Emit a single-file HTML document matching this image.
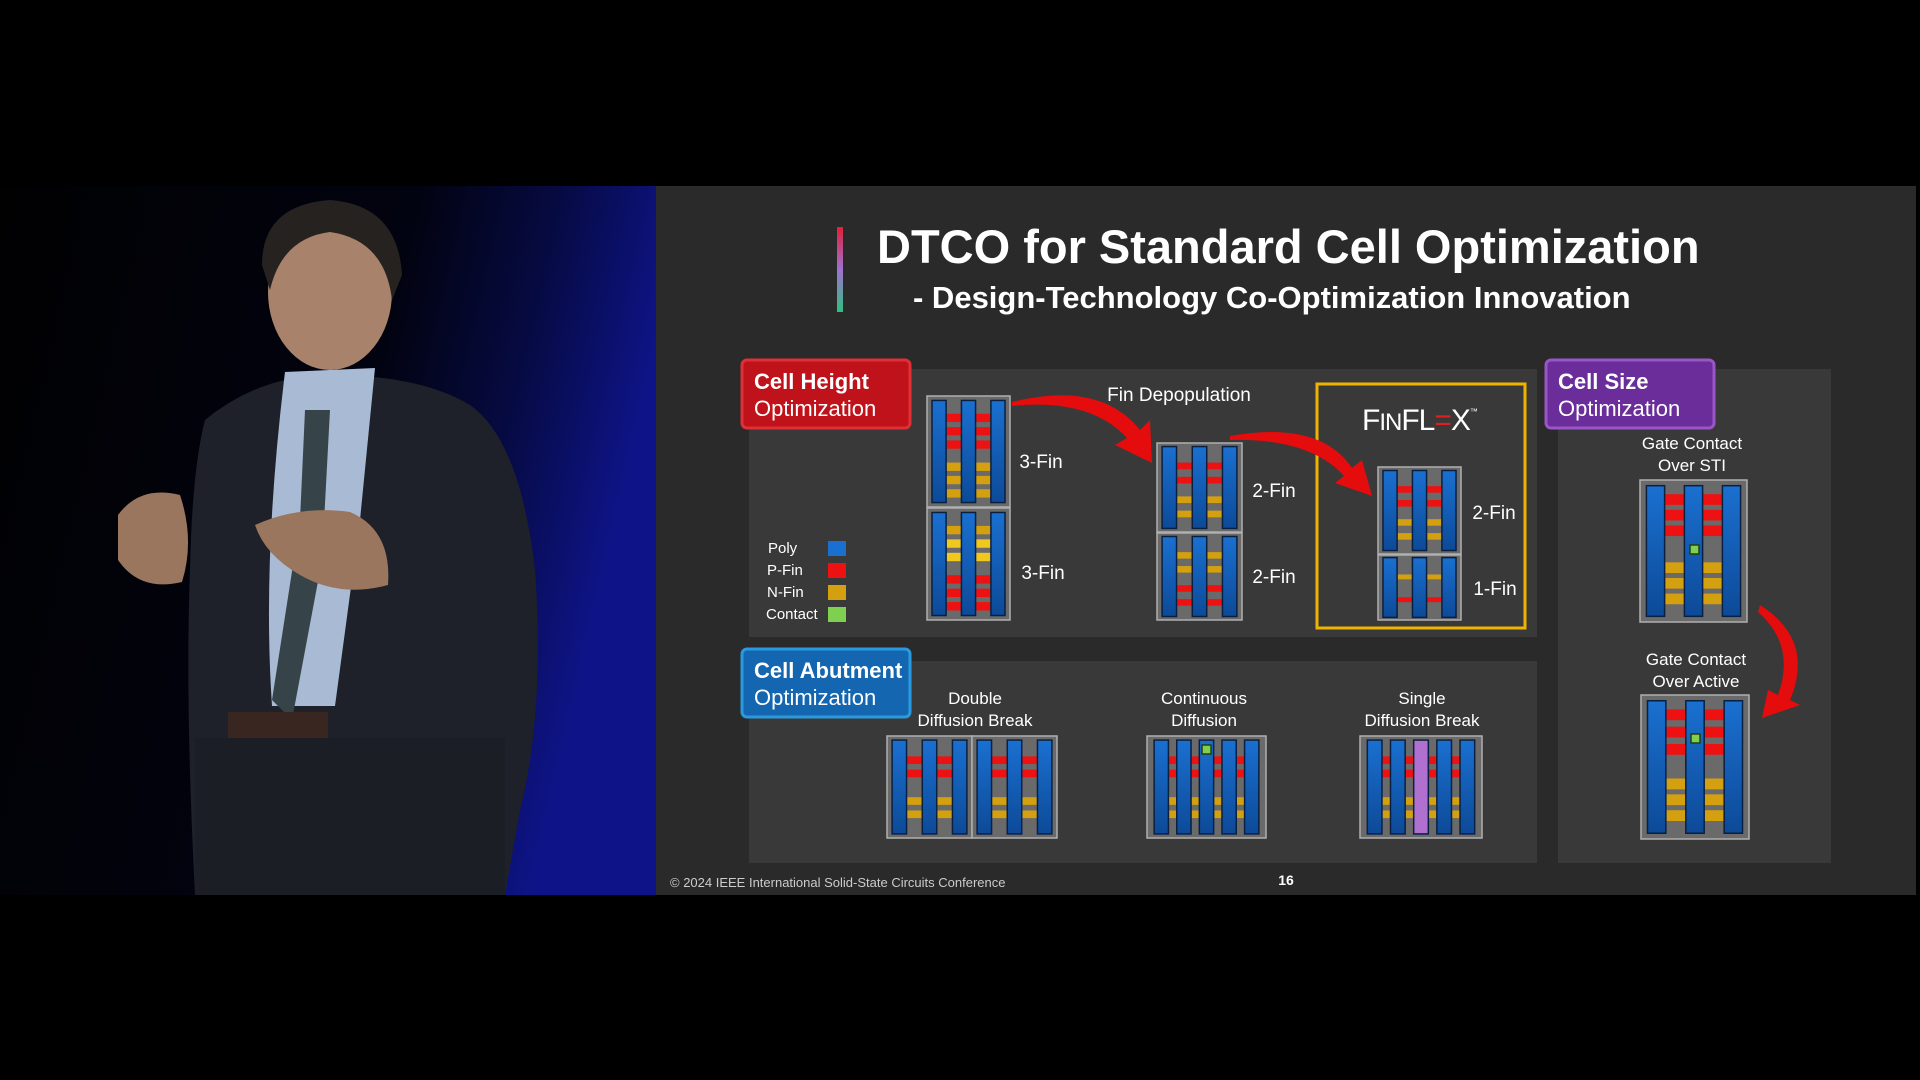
<!DOCTYPE html>
<html><head><meta charset="utf-8"><style>
html,body{margin:0;padding:0;background:#000;width:1920px;height:1080px;overflow:hidden}
svg{display:block}
text{font-family:"Liberation Sans",sans-serif}
</style></head><body>
<svg id="s" width="1920" height="1080" viewBox="0 0 1920 1080" xmlns="http://www.w3.org/2000/svg">
<defs>
<linearGradient id="bg" x1="0" y1="0" x2="1" y2="0.25">
<stop offset="0" stop-color="#010102"/><stop offset="0.6" stop-color="#020310"/><stop offset="0.8" stop-color="#060a40"/><stop offset="1" stop-color="#0e1488"/></linearGradient>
<linearGradient id="bar" x1="0" y1="0" x2="0" y2="1"><stop offset="0" stop-color="#e0203a"/><stop offset="0.5" stop-color="#a070d0"/><stop offset="1" stop-color="#30c080"/></linearGradient>
<linearGradient id="poly" x1="0" y1="0" x2="0" y2="1"><stop offset="0" stop-color="#1a70d0"/><stop offset="1" stop-color="#0d4a98"/></linearGradient>
</defs>
<rect x="0" y="0" width="1920" height="1080" fill="#000"/>
<!-- video -->
<rect x="0" y="186" width="656" height="709" fill="url(#bg)"/>
<g>
<path d="M205 420 Q260 375 330 375 Q420 375 470 405 Q520 440 535 570 Q545 710 520 810 L505 895 L195 895 Q185 700 190 570 Q192 470 205 420Z" fill="#1e2129"/>
<path d="M285 372 L375 368 L360 520 L335 706 L272 706 Q262 560 285 372Z" fill="#a8bad4"/>
<path d="M305 410 L330 410 L322 560 L292 720 L272 700 L300 520Z" fill="#36444a"/>
<ellipse cx="330" cy="292" rx="62" ry="78" fill="#a8826a"/>
<path d="M262 265 Q262 205 330 200 Q398 205 402 275 L392 300 Q385 240 330 232 Q282 238 270 290Z" fill="#262220"/>
<path d="M118 515 Q140 485 180 495 Q195 540 182 582 Q140 592 118 560Z" fill="#9a765e"/>
<path d="M255 525 Q300 505 350 512 Q392 530 388 585 Q340 598 300 575 Q265 555 255 525Z" fill="#9a765e"/>
<rect x="228" y="712" width="100" height="26" fill="#3a2620"/>
<rect x="195" y="738" width="310" height="157" fill="#1c1e26"/>
</g>
<!-- slide -->
<rect x="656" y="186" width="1260" height="709" fill="#2a2a2b"/>
<rect x="837" y="227" width="6" height="85" fill="url(#bar)"/>
<text x="877" y="263" font-size="47" font-weight="bold" fill="#fff">DTCO for Standard Cell Optimization</text>
<text x="913" y="308" font-size="31" font-weight="bold" fill="#fff">- Design-Technology Co-Optimization Innovation</text>
<rect x="749" y="369" width="788" height="268" fill="#393939"/>
<rect x="749" y="661" width="788" height="202" fill="#393939"/>
<rect x="1558" y="369" width="273" height="494" fill="#393939"/>
<rect x="742" y="360" width="168" height="68" rx="5" fill="#c0121a" stroke="#e03036" stroke-width="3"/>
<text x="754" y="389" font-size="22" font-weight="bold" fill="#fff">Cell Height</text>
<text x="754" y="416" font-size="22" fill="#fff">Optimization</text>
<rect x="742" y="649" width="168" height="68" rx="5" fill="#1466b0" stroke="#2a9ae0" stroke-width="3"/>
<text x="754" y="678" font-size="22" font-weight="bold" fill="#fff">Cell Abutment</text>
<text x="754" y="705" font-size="22" fill="#fff">Optimization</text>
<rect x="1546" y="360" width="168" height="68" rx="5" fill="#6a2d9a" stroke="#9a55c8" stroke-width="3"/>
<text x="1558" y="389" font-size="22" font-weight="bold" fill="#fff">Cell Size</text>
<text x="1558" y="416" font-size="22" fill="#fff">Optimization</text>
<rect x="1317" y="384" width="208" height="244" fill="none" stroke="#f0b400" stroke-width="3"/>
<text x="1362" y="430" font-size="30" fill="#fff" letter-spacing="-1">F<tspan font-size="24">IN</tspan>FL<tspan fill="#e02020">=</tspan>X<tspan font-size="8" dy="-16">™</tspan></text>
<g font-size="19" fill="#fff" text-anchor="middle">
<text x="1179" y="401">Fin Depopulation</text>
<text x="1041" y="468">3-Fin</text><text x="1043" y="579">3-Fin</text>
<text x="1274" y="497">2-Fin</text><text x="1274" y="583">2-Fin</text>
<text x="1494" y="519">2-Fin</text><text x="1495" y="595">1-Fin</text>
<text x="1692" y="449" font-size="17">Gate Contact</text><text x="1692" y="471" font-size="17">Over STI</text>
<text x="1696" y="665" font-size="17">Gate Contact</text><text x="1696" y="687" font-size="17">Over Active</text>
<text x="975" y="704" font-size="17">Double</text><text x="975" y="726" font-size="17">Diffusion Break</text>
<text x="1204" y="704" font-size="17">Continuous</text><text x="1204" y="726" font-size="17">Diffusion</text>
<text x="1422" y="704" font-size="17">Single</text><text x="1422" y="726" font-size="17">Diffusion Break</text>
</g>
<g font-size="15" fill="#fff">
<text x="768" y="553">Poly</text><text x="767" y="575">P-Fin</text><text x="767" y="597">N-Fin</text><text x="766" y="619">Contact</text>
</g>
<rect x="828" y="541" width="18" height="15" fill="#1a70d0"/>
<rect x="828" y="563" width="18" height="15" fill="#ee1111"/>
<rect x="828" y="585" width="18" height="15" fill="#d4a010"/>
<rect x="828" y="607" width="18" height="15" fill="#80d050"/>
<text x="670" y="887" font-size="13" fill="#ccc">© 2024 IEEE International Solid-State Circuits Conference</text>
<text x="1286" y="885" font-size="14" font-weight="bold" fill="#fff" text-anchor="middle">16</text>
<!-- arrows -->
<g fill="#e40c0c">
<path d="M1012 402 Q1100 380 1140 430 L1150 420 L1152 463 L1115 445 L1127 438 Q1090 398 1012 406Z"/>
<path d="M1230 436 Q1320 420 1352 468 L1362 460 L1372 496 L1335 483 L1344 476 Q1310 438 1230 440Z"/>
<path d="M1760 605 Q1815 640 1790 700 L1800 705 L1762 718 L1768 690 L1778 695 Q1796 645 1758 612Z"/>
</g>
<g id="cells"></g>
</svg>
<script>
var g=document.getElementById('cells'),NS='http://www.w3.org/2000/svg';
function R(x,y,w,h,f,st){var r=document.createElementNS(NS,'rect');r.setAttribute('x',x);r.setAttribute('y',y);r.setAttribute('width',w);r.setAttribute('height',h);r.setAttribute('fill',f);if(st){r.setAttribute('stroke',st);r.setAttribute('stroke-width',1.5);}g.appendChild(r);}
var C={r:'#ee1111',y:'#d4a010',Y:'#f0c820'};
function cell(x,y,w,h,n,fins,sp){
 R(x,y,w,h,'#6a6a6a','#b0b0b0');
 var pw=w*(n>3?0.12:0.17), pad=w*0.06, gap=(w-2*pad-n*pw)/(n-1);
 fins.forEach(function(f){for(var i=0;i<n-1;i++){var gx=x+pad+pw*(i+1)+gap*i;R(gx,y+h*f[0],gap,h*0.075,C[f[1]]);}});
 for(var i=0;i<n;i++){var px=x+pad+(pw+gap)*i;R(px,y+h*0.04,pw,h*0.92,(sp&&sp.p==i)?'#b070d0':'url(#poly)','#0a2040');}
 if(sp&&sp.c)R(sp.c[0],sp.c[1],9,9,'#80d050','#204010');
}
var T3=[[.16,'r'],[.28,'r'],[.4,'r'],[.6,'y'],[.72,'y'],[.84,'y']];
var B3=[[.16,'y'],[.28,'Y'],[.4,'Y'],[.6,'r'],[.72,'r'],[.84,'r']];
cell(927,396,83,111,3,T3);cell(927,508,83,112,3,B3);
var T2=[[.22,'r'],[.38,'r'],[.6,'y'],[.76,'y']],B2=[[.22,'y'],[.38,'y'],[.6,'r'],[.76,'r']];
cell(1157,443,85,89,3,T2);cell(1157,533,85,87,3,B2);
cell(1378,467,83,87,3,T2);cell(1378,555,83,65,3,[[.3,'y'],[.65,'r']]);
var G=[[.1,'r'],[.21,'r'],[.32,'r'],[.58,'y'],[.69,'y'],[.8,'y']];
cell(1640,480,107,142,3,G,{c:[1690,545]});
cell(1641,695,108,144,3,[[.1,'r'],[.22,'r'],[.34,'r'],[.58,'y'],[.69,'y'],[.8,'y']],{c:[1691,734]});
var D=[[.2,'r'],[.33,'r'],[.6,'y'],[.73,'y']];
cell(887,736,85,102,3,D);cell(972,736,85,102,3,D);
cell(1147,736,119,102,5,D,{c:[1202,745]});
cell(1360,736,122,102,5,D,{p:2});
</script>
</body></html>
